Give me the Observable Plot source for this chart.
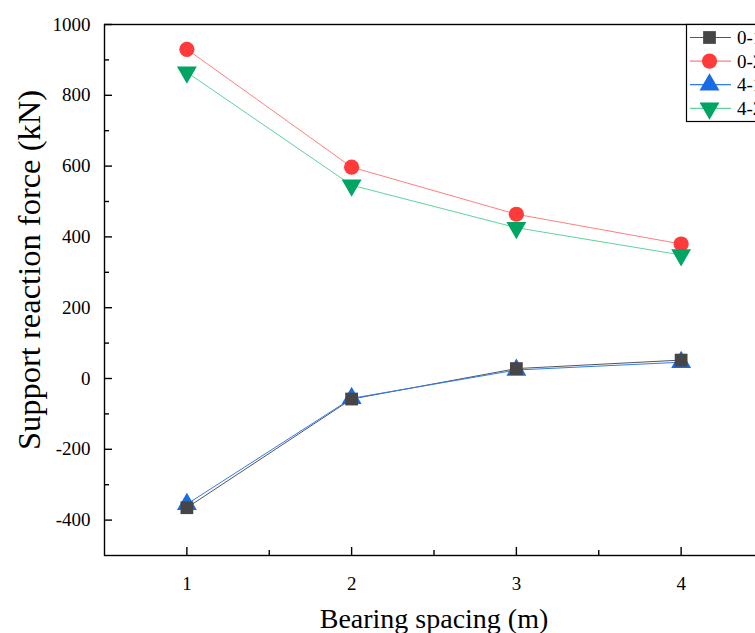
<!DOCTYPE html>
<html>
<head>
<meta charset="utf-8">
<script src="https://cdn.jsdelivr.net/npm/d3@7"></script>
<script src="https://cdn.jsdelivr.net/npm/@observablehq/plot@0.6"></script>
<style>
  html, body { margin: 0; padding: 0; background: white; overflow: hidden; width: 755px; height: 633px; }
  #wrap { position: relative; width: 755px; height: 633px; overflow: hidden; }
  #wrap svg { max-width: none !important; height: 633px !important; }
  #wrap svg text { font-family: 'Liberation Serif', 'Times New Roman', serif !important; }
</style>
</head>
<body>
<div id="wrap"></div>
<script>
// ---- data ----
const spacing = [1, 2, 3, 4];
const seriesNames = ["0-1", "0-2", "4-1", "4-2"];
const s01 = [-365, -58, 28, 52];
const s02 = [930, 597, 464, 380];
const s41 = [-355, -56, 24, 46];
const s42 = [865, 546, 426, 349];
const xTickValues = [1, 2, 3, 4];
const xMinorTicks = [1.5, 2.5, 3.5];
const yTickValues = [-400, -200, 0, 200, 400, 600, 800, 1000];
const yMinorTicks = [-300, -100, 100, 300, 500, 700, 900];

const markerColors = ["#464646", "#ff3a3a", "#1a6ae6", "#00a463"];
const lineColors = ["#555555", "#ff7f7f", "#2f7cf0", "#5fd39c"];
const symbols = ["square", "circle", "triangle", "triangle"];
const rotations = [0, 0, 0, 180];
const radii = [7.2, 7.6, 7.4, 7.4];

const allValues = [s01, s02, s41, s42];
const rows = [];
seriesNames.forEach((name, i) => {
  spacing.forEach((x, j) => rows.push({series: name, idx: i, x, y: allValues[i][j]}));
});

const font = "'Liberation Serif', 'Times New Roman', serif";

const chart = Plot.plot({
  width: 775,
  height: 633,
  marginLeft: 104,
  marginRight: 12,
  marginTop: 24,
  marginBottom: 78,
  style: {fontFamily: font, background: "white", color: "black", overflow: "visible"},
  x: {domain: [0.5, 4.5]},
  y: {domain: [-500, 1000]},
  color: {type: "identity"},
  symbol: {type: "identity"},
  r: {type: "identity"},
  marks: [
    // lines
    Plot.line(rows, {x: "x", y: "y", z: "series", stroke: d => lineColors[d.idx], strokeWidth: 1}),
    // markers
    Plot.dot(rows, {x: "x", y: "y", symbol: d => symbols[d.idx], fill: d => markerColors[d.idx],
      r: d => radii[d.idx], rotate: d => rotations[d.idx], stroke: "none"}),
    // frame
    Plot.frame({stroke: "black", strokeWidth: 1.4}),
    // x ticks (inward)
    Plot.axisX({ticks: xTickValues, tickSize: -8, tickFormat: () => "", label: null, strokeWidth: 1.4}),
    Plot.axisX({ticks: xMinorTicks, tickSize: -5, tickFormat: () => "", label: null, strokeWidth: 1.4}),
    Plot.axisX({ticks: xTickValues, tickSize: 0, tickPadding: 21, fontSize: 19, fontFamily: font, tickFormat: d => String(d), label: null}),
    // y ticks (inward)
    Plot.axisY({ticks: yTickValues, tickSize: -8, tickFormat: () => "", label: null, strokeWidth: 1.4}),
    Plot.axisY({ticks: yMinorTicks, tickSize: -5, tickFormat: () => "", label: null, strokeWidth: 1.4}),
    Plot.axisY({ticks: yTickValues, tickSize: 0, tickPadding: 14, fontSize: 19, fontFamily: font, tickFormat: d => String(d), label: null}),
    // axis titles
    Plot.text(["Bearing spacing (m)"], {frameAnchor: "bottom", dy: 72, text: d => d, fontSize: 28, fontFamily: font, textAnchor: "middle"}),
    Plot.text(["Support reaction force (kN)"], {frameAnchor: "left", dx: -75, dy: -20, rotate: -90, textAnchor: "middle", text: d => d, fontSize: 32.5, fontFamily: font})
  ]
});

const wrap = document.getElementById("wrap");
wrap.appendChild(chart);

// ---- legend ----
const lg = d3.create("svg").attr("id", "legend").attr("width", 755).attr("height", 633)
  .style("position", "absolute").style("left", "0px").style("top", "0px");
lg.append("rect").attr("x", 686.5).attr("y", 24.5).attr("width", 120).attr("height", 97)
  .attr("fill", "white").attr("stroke", "black").attr("stroke-width", 1.2);
const symMap = {square: d3.symbolSquare, circle: d3.symbolCircle, triangle: d3.symbolTriangle};
seriesNames.forEach((name, i) => {
  const yy = 37.5 + i * 23.6;
  lg.append("line").attr("x1", 690).attr("x2", 731).attr("y1", yy).attr("y2", yy)
    .attr("stroke", lineColors[i]).attr("stroke-width", 1.2);
  lg.append("path").attr("d", d3.symbol(symMap[symbols[i]], radii[i] * radii[i] * Math.PI)())
    .attr("transform", `translate(709.5,${yy}) rotate(${rotations[i]})`)
    .attr("fill", markerColors[i]);
  lg.append("text").attr("x", 737).attr("y", yy).attr("dy", "0.35em")
    .attr("font-family", font).attr("font-size", 19).text(name);
});
wrap.appendChild(lg.node());
</script>
</body>
</html>
